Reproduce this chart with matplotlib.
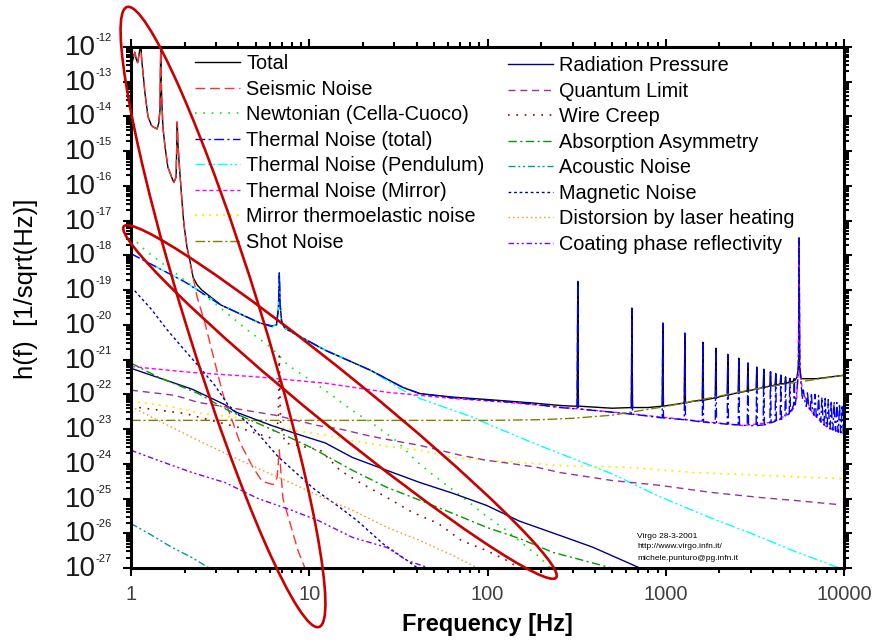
import numpy as np
import matplotlib
matplotlib.use("Agg")
import matplotlib.pyplot as plt
from matplotlib.patches import Ellipse

plt.rcParams['font.family'] = ['Liberation Sans', 'DejaVu Sans']

# ---------------------------------------------------------------------------
# Data: frequency [Hz] and log10 of h(f) [1/sqrt(Hz)]
# ---------------------------------------------------------------------------
seismic_f = [1.0, 1.02, 1.05, 1.07, 1.09, 1.11, 1.123, 1.133, 1.145, 1.168, 1.198, 1.245,
             1.30, 1.33, 1.40, 1.43, 1.455, 1.463, 1.468, 1.475, 1.487, 1.51, 1.55, 1.61,
             1.70, 1.74, 1.79, 1.805, 1.818, 1.83, 1.86, 1.93, 1.98, 2.06, 2.35, 2.6, 2.96,
             3.28, 4.09, 4.83, 5.43, 6.26, 6.6, 6.79, 6.95, 7.12, 8.0, 8.65, 9.46, 10.0]
seismic_h = [-12.1, -12.4, -12.15, -12.35, -12.45, -12.2, -12.05, -11.7, -12.3, -12.75, -13.33, -14.0,
             -14.25, -14.3, -14.36, -14.2, -13.8, -12.6, -12.1, -12.8, -13.5, -14.3, -14.85, -15.46,
             -15.78, -15.9, -15.75, -14.9, -14.16, -14.7, -15.3, -16.41, -17.1, -17.76, -19.2, -19.95, -21.1,
             -22.0, -23.4, -24.1, -24.5, -24.6, -24.4, -23.6, -24.3, -25.0, -25.9, -26.5, -27.0, -27.4]

total_f = [1.0, 1.02, 1.05, 1.07, 1.09, 1.11, 1.123, 1.133, 1.145, 1.168, 1.198, 1.245,
           1.30, 1.33, 1.40, 1.43, 1.455, 1.463, 1.468, 1.475, 1.487, 1.51, 1.55, 1.61,
           1.70, 1.74, 1.79, 1.805, 1.818, 1.83, 1.86, 1.93, 1.98, 2.06, 2.15, 2.23, 2.35, 2.5,
           3.2, 5.3, 6.2, 6.55, 6.72, 6.79, 6.86, 7.0, 7.3, 12.3, 21.9, 33.5, 41.8, 64, 100,
           180, 254, 300, 500, 800, 1000, 1420, 2000, 2700, 3500, 4500, 5200, 5450, 5560,
           5600, 5640, 5750, 7000, 10000]
total_h = [-12.1, -12.4, -12.15, -12.35, -12.45, -12.2, -12.05, -11.7, -12.3, -12.75, -13.33, -14.0,
           -14.25, -14.3, -14.36, -14.2, -13.8, -12.6, -12.1, -12.8, -13.5, -14.3, -14.85, -15.46,
           -15.78, -15.9, -15.75, -14.9, -14.16, -14.7, -15.3, -16.41, -17.1, -17.76, -18.2, -18.63, -18.85, -19.0,
           -19.43, -19.95, -20.03, -20.0, -19.5, -18.5, -19.4, -19.9, -20.1, -20.73, -21.3, -21.8, -21.98, -22.08, -22.15,
           -22.25, -22.32, -22.34, -22.4, -22.38, -22.33, -22.2, -22.07, -21.93, -21.8, -21.7, -21.62, -21.5, -21.2,
           -17.5, -21.2, -21.55, -21.55, -21.45]

newton_f = [1.0, 1.2, 1.49, 1.84, 2.96, 4.53, 6.17, 7.6, 11.2, 13.6, 16.9, 22.8, 31, 40.4, 49.5,
            76.5, 94, 128, 197, 230]
newton_h = [-17.45, -17.85, -18.22, -18.57, -19.38, -20.16, -20.67, -21.16, -21.74, -22.05, -22.42,
            -22.85, -23.35, -23.95, -24.32, -25.05, -25.43, -25.92, -26.7, -27.05]

thermal_f = [1.0, 2.0, 3.2, 5.3, 6.2, 6.55, 6.72, 6.79, 6.86, 7.0, 7.3, 12.3, 21.9, 33.5, 41.8, 64,
             100, 180, 254, 5400, 5500, 5560, 5600, 5640, 5700, 5800, 10000]
thermal_h = [-17.95, -18.76, -19.43, -19.95, -20.05, -20.0, -19.5, -18.5, -19.4, -19.9, -20.1, -20.73,
             -21.3, -21.8, -21.98, -22.1, -22.17, -22.28, -22.38, -22.1, -21.6, -21.0, -17.5, -21.0,
             -21.6, -21.9, -23.12]

pend_f = [1.0, 2.0, 3.2, 5.3, 6.2, 6.55, 6.72, 6.79, 6.86, 7.0, 7.3, 12.3, 21.9, 33.5, 41.8, 64, 83,
          107, 128, 180, 254, 505, 927, 1770, 3372, 5160, 10000]
pend_h = [-17.95, -18.76, -19.43, -19.95, -20.05, -20.0, -19.5, -18.5, -19.4, -19.9, -20.1, -20.73,
          -21.3, -21.88, -22.12, -22.46, -22.66, -22.92, -23.08, -23.4, -23.7, -24.3, -24.95, -25.55,
          -26.1, -26.5, -27.05]

mirror_f = [1.0, 2.2, 5.16, 12.3, 27.3, 64, 128, 233, 605, 1420, 2706, 3990, 4970, 5300, 5430, 5540,
            5600, 5660, 5870, 6680, 8010, 9840, 10000]
mirror_h = [-21.2, -21.37, -21.5, -21.68, -21.94, -22.12, -22.23, -22.35, -22.55, -22.75, -22.9, -22.8,
            -22.55, -22.35, -22.1, -21.3, -17.5, -21.3, -21.95, -22.55, -22.95, -23.12, -23.13]

thermoel_f = [1.0, 1.65, 2.5, 3.83, 8.3, 11.5, 17.5, 27.3, 41.8, 64, 99, 151, 254, 605, 1420, 3372, 10000]
thermoel_h = [-22.2, -22.35, -22.55, -22.66, -23.04, -23.15, -23.33, -23.5, -23.61, -23.82, -23.9,
              -23.96, -24.05, -24.1, -24.25, -24.33, -24.43]

shot_f = [1.0, 100, 200, 300, 500, 1000, 2000, 3000, 5000, 10000]
shot_h = [-22.75, -22.75, -22.73, -22.69, -22.6, -22.35, -22.05, -21.87, -21.68, -21.45]

radpress_f = [1.0, 2.2, 3.37, 3.83, 6.17, 8.63, 12.3, 17.5, 27.3, 41.8, 64, 99, 151, 254, 389, 716]
radpress_h = [-21.25, -21.85, -22.3, -22.5, -22.9, -23.15, -23.4, -23.82, -24.19, -24.54, -24.85,
              -25.2, -25.65, -26.06, -26.4, -27.0]

quantum_f = [1.0, 1.77, 2.37, 6.42, 11.2, 14.9, 21.9, 29.4, 41.8, 70, 99, 139, 189, 254, 498, 927,
             1770, 3372, 5160, 9120]
quantum_h = [-21.88, -22.03, -22.23, -22.6, -22.9, -23.0, -23.2, -23.33, -23.47, -23.75, -23.9, -24.0,
             -24.1, -24.25, -24.48, -24.62, -24.82, -24.97, -25.05, -25.17]

creep_f = [1.0, 2.0, 4.0, 6.0, 6.7, 6.79, 6.9, 7.3, 11.5, 14.9, 19.5, 27.3, 38, 53, 71, 99, 128, 151]
creep_h = [-22.35, -22.55, -22.95, -23.25, -22.8, -20.9, -22.8, -23.4, -23.6, -24.19, -24.56, -24.97,
           -25.4, -25.72, -26.2, -26.5, -26.78, -27.0]

absorb_f = [1.0, 1.417, 2.37, 3.5, 4.97, 7.98, 10.4, 17.5, 27.3, 41.8, 64, 99, 151, 233, 498]
absorb_h = [-21.1, -21.5, -21.97, -22.46, -22.8, -23.27, -23.55, -24.19, -24.68, -25.05, -25.43,
            -25.83, -26.15, -26.55, -27.0]

acoustic_f = [1.0, 1.31, 1.7, 2.2, 2.6, 2.8]
acoustic_h = [-25.72, -26.06, -26.41, -26.7, -26.93, -27.02]

magnetic_f = [1.0, 1.3, 1.6, 2.0, 2.5, 2.96, 3.5, 4.9, 6.7, 8.6, 10.8, 14.8, 18.5, 25.9, 35.3, 40.5]
magnetic_h = [-18.9, -19.55, -20.15, -20.73, -21.3, -21.75, -22.3, -23.0, -23.8, -24.3, -24.75,
              -25.25, -25.63, -26.3, -26.78, -27.0]

laser_f = [1.0, 1.417, 2.2, 3.37, 5.16, 7.98, 11.2, 17.5, 27.3, 41.8, 64, 88]
laser_h = [-22.35, -22.75, -23.24, -23.7, -24.13, -24.56, -24.91, -25.34, -25.83, -26.21, -26.64, -27.0]

coating_f = [1.0, 1.417, 2.2, 3.37, 5.16, 7.98, 11.2, 17.5, 27.3, 35.3, 50]
coating_h = [-23.61, -23.9, -24.25, -24.54, -25.0, -25.34, -25.63, -26.12, -26.41, -26.78, -27.05]

# violin-mode resonances (frequency, tip, floor of thermal, floor of total)
violin_f = [321, 646, 963, 1280, 1616, 1911, 2230, 2570, 2890, 3240, 3548, 3870, 4140, 4420, 4700,
            4970, 5260]
violin_top = [-18.75, -19.52, -19.95, -20.24, -20.5, -20.67, -20.85, -20.96, -21.1, -21.22, -21.28,
              -21.35, -21.4, -21.45, -21.5, -21.54, -21.55]
violin_floor = [-22.42, -22.57, -22.68, -22.73, -22.8, -22.83, -22.86, -22.88, -22.9, -22.9, -22.88,
                -22.82, -22.78, -22.72, -22.63, -22.55, -22.3]
violin_total_floor = [-22.34, -22.38, -22.34, -22.25, -22.17, -22.1, -22.02, -21.95, -21.9, -21.85,
                      -21.8, -21.76, -21.73, -21.7, -21.68, -21.65, -21.6]
# modes above the mirror resonance (thermal only)
hmode_f = [5920, 6240, 6560, 6880, 7200, 7520, 7840, 8160, 8480, 8800, 9120, 9440, 9760]
hmode_top = [-21.88, -21.92, -21.96, -22.0, -22.04, -22.08, -22.12, -22.15, -22.18, -22.21, -22.24,
             -22.27, -22.3]
hmode_floor = [-22.15, -22.35, -22.5, -22.6, -22.7, -22.8, -22.88, -22.95, -23.0, -23.03, -23.06,
               -23.09, -23.11]

labels_left = ["Total", "Seismic Noise", "Newtonian (Cella-Cuoco)", "Thermal Noise (total)",
               "Thermal Noise (Pendulum)", "Thermal Noise (Mirror)", "Mirror thermoelastic noise",
               "Shot Noise"]
labels_right = ["Radiation Pressure", "Quantum Limit", "Wire Creep", "Absorption Asymmetry",
                "Acoustic Noise", "Magnetic Noise", "Distorsion by laser heating",
                "Coating phase reflectivity"]
xtick_vals = [1, 10, 100, 1000, 10000]
xtick_labels = ["1", "10", "100", "1000", "10000"]
ytick_exps = list(range(-27, -11))
note_lines = ["Virgo 28-3-2001", "http://www.virgo.infn.it/", "michele.punturo@pg.infn.it"]


def with_spikes(bf, bh, sf, stop, sfloor, w):
    pts = list(zip(bf, bh))
    for f, t, fl in zip(sf, stop, sfloor):
        pts += [(f * (1 - w), fl), (f, t), (f * (1 + w), fl)]
    pts.sort()
    f = np.array([p[0] for p in pts])
    h = np.array([p[1] for p in pts])
    return f, 10.0 ** h


def H(v):
    return 10.0 ** np.asarray(v, dtype=float)


# ---------------------------------------------------------------------------
fig = plt.figure(figsize=(8.74, 6.41), dpi=100)
ax = fig.add_axes([131 / 874, 1 - 568 / 641, (844 - 131) / 874, (568 - 47) / 641])
ax.set_xscale('log')
ax.set_yscale('log')
ax.set_xlim(1, 10000)
ax.set_ylim(1e-27, 1e-12)

LW = 1.0
tf, th = with_spikes(total_f, total_h, violin_f, violin_top, violin_total_floor, 0.008)
l_total, = ax.plot(tf, th, color='black', lw=LW, label=labels_left[0])
l_seis, = ax.plot(seismic_f, H(seismic_h), color='#ff3030', lw=LW, dashes=(7, 3.5),
                  label=labels_left[1])
l_newt, = ax.plot(newton_f, H(newton_h), color='#00ee00', lw=LW * 1.2, dashes=(1, 4),
                  label=labels_left[2])
thf1, thh1 = with_spikes(thermal_f, thermal_h, violin_f, violin_top, violin_floor, 0.008)
l_pend, = ax.plot(pend_f, H(pend_h), color='#00ffff', lw=LW, dashes=(7, 2, 1.5, 2, 1.5, 2),
                  label=labels_left[4])
l_mirr, = ax.plot(mirror_f, H(mirror_h), color='#ff00ff', lw=LW, dashes=(3, 2),
                  label=labels_left[5])
thf2, thh2 = with_spikes(list(thf1), list(np.log10(thh1)), hmode_f, hmode_top, hmode_floor, 0.015)
l_therm, = ax.plot(thf2, thh2, color='#0000ff', lw=LW, dashes=(7, 2.5, 1.5, 2.5),
                   label=labels_left[3])
l_teel, = ax.plot(thermoel_f, H(thermoel_h), color='#f0f000', lw=LW * 1.2, dashes=(1.2, 3),
                  label=labels_left[6])
l_shot, = ax.plot(shot_f, H(shot_h), color='#808000', lw=LW, dashes=(7, 2, 1.5, 2),
                  label=labels_left[7])

l_rad, = ax.plot(radpress_f, H(radpress_h), color='#000080', lw=LW, label=labels_right[0])
l_qua, = ax.plot(quantum_f, H(quantum_h), color='#993399', lw=LW, dashes=(5, 3.5),
                 label=labels_right[1])
l_cre, = ax.plot(creep_f, H(creep_h), color='#990000', lw=LW * 1.2, dashes=(1, 4),
                 label=labels_right[2])
l_abs, = ax.plot(absorb_f, H(absorb_h), color='#009900', lw=LW, dashes=(6, 2.5, 1.5, 2.5),
                 label=labels_right[3])
l_aco, = ax.plot(acoustic_f, H(acoustic_h), color='#009999', lw=LW, dashes=(5, 2, 1.5, 2, 1.5, 2),
                 label=labels_right[4])
l_mag, = ax.plot(magnetic_f, H(magnetic_h), color='#0000aa', lw=LW, dashes=(2, 2),
                 label=labels_right[5])
l_las, = ax.plot(laser_f, H(laser_h), color='#ff9933', lw=LW, dashes=(1.2, 2),
                 label=labels_right[6])
l_coa, = ax.plot(coating_f, H(coating_h), color='#8000ff', lw=LW, dashes=(4, 2, 1.5, 2, 1.5, 2),
                 label=labels_right[7])

# ---- axes styling ----------------------------------------------------------
for s in ax.spines.values():
    s.set_linewidth(2.2)
ax.tick_params(which='both', direction='out', top=True, right=True, width=1.5, color='black')
ax.tick_params(which='major', length=6)
ax.tick_params(which='minor', length=3.5)
ax.tick_params(axis='x', which='major', labelsize=14.5, labelcolor='#404040', pad=6.5)
ax.set_xticks(xtick_vals)
ax.set_xticklabels(xtick_labels)
ax.xaxis.set_minor_locator(matplotlib.ticker.LogLocator(base=10, subs=np.arange(2, 10), numticks=50))
ax.xaxis.set_minor_formatter(matplotlib.ticker.NullFormatter())
ax.set_yticks([10.0 ** e for e in ytick_exps])
ax.set_yticklabels([])
ax.yaxis.set_minor_locator(matplotlib.ticker.LogLocator(base=10, subs=np.arange(2, 10), numticks=50))
ax.yaxis.set_minor_formatter(matplotlib.ticker.NullFormatter())

for e in ytick_exps:
    ax.annotate('10', xy=(0, 10.0 ** e), xycoords=('axes fraction', 'data'), xytext=(-35, -1),
                textcoords='offset pixels', ha='right', va='center', fontsize=20, color='#1a1a1a',
                annotation_clip=False)
    ax.annotate(str(e), xy=(0, 10.0 ** e), xycoords=('axes fraction', 'data'),
                xytext=(-35, 9), textcoords='offset pixels', ha='left', va='center', fontsize=8,
                color='#1a1a1a', annotation_clip=False)

fig.text(487 / 874, 1 - 625 / 641, 'Frequency [Hz]', ha='center', va='center', fontsize=17,
         fontweight='bold')
fig.text(26 / 874, 1 - 289 / 641, 'h(f)  [1/sqrt(Hz)]', ha='center', va='center', fontsize=18.5,
         rotation=90)

# ---- legends ---------------------------------------------------------------
common = dict(frameon=False, fontsize=14.3, handlelength=2.27, handletextpad=0.3,
              labelspacing=0.33, borderpad=0, borderaxespad=0)
leg1 = ax.legend([l_total, l_seis, l_newt, l_therm, l_pend, l_mirr, l_teel, l_shot], labels_left,
                 loc='upper left', bbox_to_anchor=(195 / 874, 1 - 54 / 641),
                 bbox_transform=fig.transFigure, **common)
ax.add_artist(leg1)
ax.legend([l_rad, l_qua, l_cre, l_abs, l_aco, l_mag, l_las, l_coa], labels_right,
          loc='upper left', bbox_to_anchor=(508 / 874, 1 - 56 / 641),
          bbox_transform=fig.transFigure, **common)

# ---- note ------------------------------------------------------------------
for i, t in enumerate(note_lines):
    fig.text(637 / 874, 1 - (536 + 11 * i) / 641, t, fontsize=6, va='center', ha='left')

# ---- red ellipses (hand annotation) ----------------------------------------
for (cx, cy, w, h, ang) in [(223, 317, 649, 75, -72.8), (340, 402, 557, 52, -39.1)]:
    e = Ellipse((cx / 100, (641 - cy) / 100), w / 100, h / 100, angle=ang, fill=False,
                ec='#c80000', lw=1.9, transform=fig.dpi_scale_trans, clip_on=False, zorder=10)
    fig.add_artist(e)

fig.savefig('out.png', dpi=100)
